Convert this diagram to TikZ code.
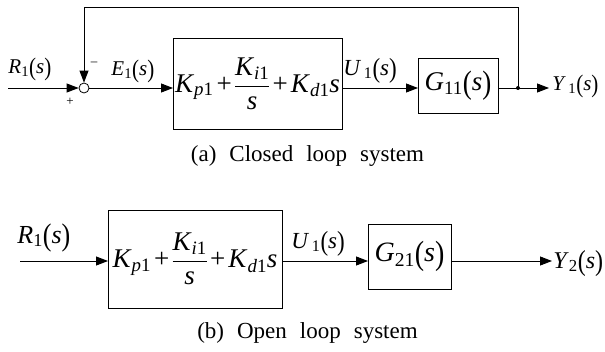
\documentclass[tikz,border=0pt]{standalone}
\usepackage{fontspec}
\setmainfont{Liberation Serif}[ItalicFont={Liberation Serif Italic},BoldFont={Liberation Serif Bold}]
\usetikzlibrary{arrows.meta}
\newcommand{\vi}[1]{\textit{#1}}
\newcommand{\sbx}[1]{\textsubscript{#1}}
\newcommand{\fsz}[1]{\fontsize{#1}{#1}\selectfont}
\newcommand{\lpar}{\raisebox{-0.1em}{\scalebox{1}[1.2]{(}}}
\newcommand{\rpar}{\raisebox{-0.1em}{\scalebox{1}[1.2]{)}}}
\newcommand{\sig}[2]{\vi{#1}\sbx{#2}\lpar\vi{s}\rpar}
\newcommand{\wsp}{\hspace{13pt}}
\newcommand{\pidform}{\fsz{27}\vi{K}\sbx{\vi{p}1}\hspace{3pt}+\hspace{2pt}$\displaystyle\frac{\mbox{\vi{K}\sbx{\vi{i}1}}}{\mbox{\vi{s}}}$\hspace{2pt}+\hspace{3pt}\vi{K}\sbx{\vi{d}1}\vi{s}}
\begin{document}
\begin{tikzpicture}[x=1pt,y=-1pt,line width=0.9pt,
  arr/.style={-{Triangle[length=12pt,width=9pt]}},
  blk/.style={draw,inner sep=0pt,outer sep=0pt},
  lbl/.style={inner sep=0pt,anchor=base west},
  captxt/.style={inner sep=0pt,font=\fsz{23}}]
\useasboundingbox (0,0) rectangle (605,351);
% ---------- (a) closed loop ----------
\node[blk,minimum width=169pt,minimum height=91pt] (c1) at (257.5,83.5) {\pidform};
\node[blk,minimum width=80pt,minimum height=55pt] (g1) at (458,85.5) {\fsz{27}\sig{G}{11}};
\node[circle,draw,minimum size=10pt,inner sep=0pt,line width=0.8pt] (sum) at (84,88) {};
\coordinate (in1) at (8,88);
\coordinate (j1) at (518,88);
\coordinate (out1) at (549,88);
\coordinate (fbA) at (518,7);
\coordinate (fbB) at (84,7);
\draw[arr] (in1) -- (sum.west);
\draw[arr] (sum.east) -- (sum.east -| c1.west);
\draw[arr] (c1.east |- sum) -- (g1.west |- sum);
\draw (g1.east |- sum) -- (j1);
\draw[arr] (j1) -- (out1);
\fill (j1) circle (2pt);
\draw[arr] (j1) -- (fbA) -- (fbB) -- (sum.north);
\node[lbl,font=\fsz{21}] (r1) at (8,73.5) {\sig{R}{1}};
\node[lbl,font=\fsz{21}] (e1) at (111,75) {\sig{E}{1}};
\node[lbl,font=\fsz{23}] (u1) at (343,75) {\sig{U}{\,1}};
\node[lbl,font=\fsz{21}] (y1) at (552,90) {\sig{Y}{\,1}};
\node[inner sep=0pt,font=\fsz{13}] (mi) at (94,64) {–};
\node[inner sep=0pt,font=\fsz{13}] (pl) at (70,102) {+};
\node[captxt] (capa) at (307.5,156) {(a)\wsp Closed\wsp loop\wsp system};
% ---------- (b) open loop ----------
\node[blk,minimum width=174pt,minimum height=98pt] (c2) at (195,259) {\pidform};
\node[blk,minimum width=83pt,minimum height=65pt] (g2) at (409.5,256.5) {\fsz{28}\sig{G}{21}};
\coordinate (in2) at (20,261);
\coordinate (out2) at (552,261);
\draw[arr] (in2) -- (in2 -| c2.west);
\draw[arr] (c2.east |- in2) -- (g2.west |- in2);
\draw[arr] (g2.east |- in2) -- (out2);
\node[lbl,font=\fsz{26}] (r2) at (17,243) {\sig{R}{1}};
\node[lbl,font=\fsz{23}] (u2) at (291,248) {\sig{U}{\,1}};
\node[lbl,font=\fsz{24}] (y2) at (553,268) {\sig{Y}{2}};
\node[captxt] (capb) at (307.5,333) {(b)\wsp Open\wsp loop\wsp system};
\end{tikzpicture}
\end{document}
